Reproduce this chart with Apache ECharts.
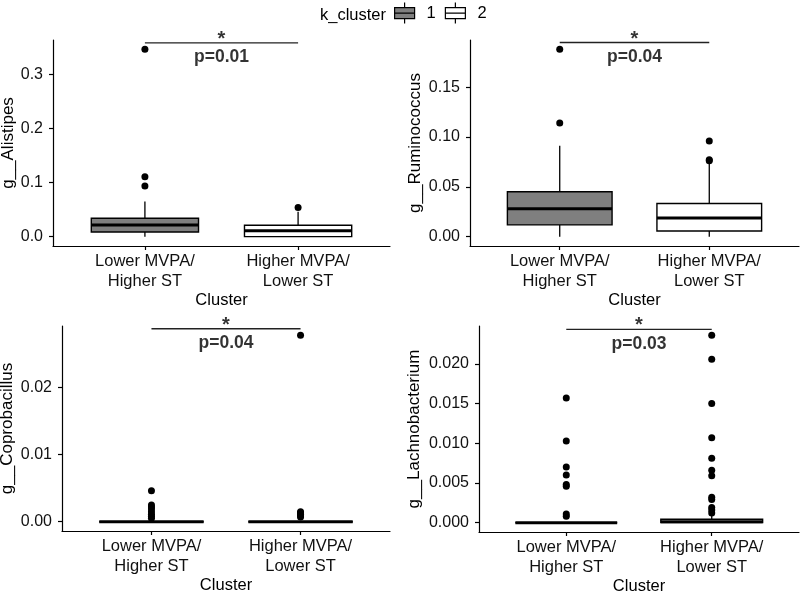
<!DOCTYPE html>
<html><head><meta charset="utf-8">
<script src="https://cdn.jsdelivr.net/npm/echarts@6/dist/echarts.min.js"></script>
<style>html,body{margin:0;padding:0;background:#fff}#c{width:800px;height:591px}</style>
</head><body><div id="c"></div>
<script>
// ---------------- data ----------------
const categories = ['Lower MVPA/\nHigher ST', 'Higher MVPA/\nLower ST'];
const clusters = ['1', '2'];
const genera = ['g__Alistipes', 'g__Ruminococcus', 'g__Coprobacillus', 'g__Lachnobacterium'];
const xTitle = 'Cluster';
const legendTitle = 'k_cluster';
const pLabels = ['p=0.01', 'p=0.04', 'p=0.04', 'p=0.03'];
const sigStars = ['*', '*', '*', '*'];
const sigBarY = [0.359, 0.1949, 0.02878, 0.02436];

// box statistics: [min, Q1, median, Q3, max]
const alistipesBox1 = [0, 0.0087, 0.0216, 0.034, 0.065];
const alistipesBox2 = [0, 0, 0.011, 0.021, 0.046];
const alistipesOut1 = [0.347, 0.111, 0.094];
const alistipesOut2 = [0.054];

const ruminococcusBox1 = [0, 0.0118, 0.0279, 0.045, 0.0913];
const ruminococcusBox2 = [0, 0.0057, 0.0188, 0.0332, 0.0745];
const ruminococcusOut1 = [0.188, 0.114];
const ruminococcusOut2 = [0.096, 0.0772, 0.0762];

const coprobacillusBox1 = [0, 0, 0, 0, 0];
const coprobacillusBox2 = [0, 0, 0, 0, 0];
const coprobacillusOut1 = [0.0046, 0.0025, 0.0022, 0.0019, 0.0015, 0.0011, 0.0008, 0.0005];
const coprobacillusOut2 = [0.0278, 0.0015, 0.0013, 0.0011, 0.0009, 0.0007];

const lachnoBox1 = [0, 0, 0, 0, 0];
const lachnoBox2 = [0, 0, 0.0001, 0.00043, 0.0009];
const lachnoOut1 = [0.0157, 0.0103, 0.0070, 0.0060, 0.0048, 0.0046, 0.0011, 0.0008];
const lachnoOut2 = [0.0236, 0.0206, 0.0150, 0.0107, 0.0081, 0.0066, 0.0059, 0.0032, 0.0029, 0.0019, 0.0016, 0.0012];

// tick values and labels
const alistipesTicks = [0, 0.1, 0.2, 0.3];
const alistipesTickLabels = ['0.0', '0.1', '0.2', '0.3'];
const ruminococcusTicks = [0, 0.05, 0.10, 0.15];
const ruminococcusTickLabels = ['0.00', '0.05', '0.10', '0.15'];
const coprobacillusTicks = [0, 0.01, 0.02];
const coprobacillusTickLabels = ['0.00', '0.01', '0.02'];
const lachnoTicks = [0, 0.005, 0.010, 0.015, 0.020];
const lachnoTickLabels = ['0.000', '0.005', '0.010', '0.015', '0.020'];

// ---------------- layout / style ----------------
const FONT = "'Liberation Sans', Arial, Helvetica, sans-serif";
const FILLS = ['#7f7f7f', '#ffffff'];
const BOX_HALF = 0.35;

const panels = [
  { name: genera[0], boxes: [alistipesBox1, alistipesBox2], outs: [alistipesOut1, alistipesOut2],
    ticks: alistipesTicks, tickLabels: alistipesTickLabels,
    grid: { left: 53, top: 40, width: 337, height: 206 }, nameGap: 36 },
  { name: genera[1], boxes: [ruminococcusBox1, ruminococcusBox2], outs: [ruminococcusOut1, ruminococcusOut2],
    ticks: ruminococcusTicks, tickLabels: ruminococcusTickLabels,
    grid: { left: 470, top: 40, width: 329, height: 206 }, nameGap: 46 },
  { name: genera[2], boxes: [coprobacillusBox1, coprobacillusBox2], outs: [coprobacillusOut1, coprobacillusOut2],
    ticks: coprobacillusTicks, tickLabels: coprobacillusTickLabels,
    grid: { left: 62, top: 326, width: 328, height: 205 }, nameGap: 46 },
  { name: genera[3], boxes: [lachnoBox1, lachnoBox2], outs: [lachnoOut1, lachnoOut2],
    ticks: lachnoTicks, tickLabels: lachnoTickLabels,
    grid: { left: 479, top: 326, width: 320, height: 206 }, nameGap: 56 }
];

function renderBox(params, api) {
  const x = api.value(0);
  const lo = api.value(1), q1 = api.value(2), med = api.value(3), q3 = api.value(4), hi = api.value(5);
  const cx = api.coord([x, med])[0];
  const yLo = api.coord([x, lo])[1], yQ1 = api.coord([x, q1])[1], yMed = api.coord([x, med])[1];
  const yQ3 = api.coord([x, q3])[1], yHi = api.coord([x, hi])[1];
  const xl = api.coord([x - BOX_HALF, med])[0], xr = api.coord([x + BOX_HALF, med])[0];
  const fill = api.visual('color');
  return {
    type: 'group',
    children: [
      { type: 'line', shape: { x1: cx, y1: yQ3, x2: cx, y2: yHi }, style: { stroke: '#000', lineWidth: 1.3 } },
      { type: 'line', shape: { x1: cx, y1: yLo, x2: cx, y2: yQ1 }, style: { stroke: '#000', lineWidth: 1.3 } },
      { type: 'rect', shape: { x: xl, y: yQ3, width: xr - xl, height: yQ1 - yQ3 },
        style: { fill: fill, stroke: '#000', lineWidth: 1.4 } },
      { type: 'line', shape: { x1: xl, y1: yMed, x2: xr, y2: yMed }, style: { stroke: '#000', lineWidth: 3 } }
    ]
  };
}

const grids = [], xAxes = [], yAxes = [], series = [];
panels.forEach((p, i) => {
  grids.push(Object.assign({ containLabel: false, outerBoundsMode: 'none' }, p.grid));
  let dataMax = 0;
  p.boxes.forEach(b => { dataMax = Math.max(dataMax, b[4]); });
  p.outs.forEach(o => o.forEach(v => { dataMax = Math.max(dataMax, v); }));
  const yMin = -0.05 * dataMax, yMax = 1.05 * dataMax;

  xAxes.push({
    gridIndex: i, type: 'value', min: 0.4, max: 2.6,
    axisLine: { show: true, onZero: false, lineStyle: { color: '#000', width: 1.2 } },
    axisTick: { show: true, customValues: [1, 2], length: 4, lineStyle: { color: '#000', width: 1.2 } },
    axisLabel: { show: true, customValues: [1, 2], formatter: v => categories[Math.round(v) - 1],
      fontSize: 16.5, lineHeight: 20, margin: 5, color: '#111', fontFamily: FONT },
    splitLine: { show: false },
    name: xTitle, nameLocation: 'middle', nameGap: 43,
    nameTextStyle: { fontSize: 16.5, color: '#000', fontFamily: FONT }
  });
  yAxes.push({
    gridIndex: i, type: 'value', min: yMin, max: yMax,
    axisLine: { show: true, onZero: false, lineStyle: { color: '#000', width: 1.2 } },
    axisTick: { show: true, customValues: p.ticks, length: 4, lineStyle: { color: '#000', width: 1.2 } },
    axisLabel: { show: true, customValues: p.ticks,
      formatter: v => { const k = p.ticks.findIndex(t => Math.abs(t - v) < 1e-9); return k >= 0 ? p.tickLabels[k] : ''; },
      fontSize: 16, margin: 10, color: '#111', fontFamily: FONT },
    splitLine: { show: false },
    name: p.name, nameLocation: 'middle', nameGap: p.nameGap,
    nameTextStyle: { fontSize: 17, color: '#000', fontFamily: FONT }
  });

  // outliers (drawn beneath boxes)
  p.outs.forEach((o, k) => {
    series.push({
      type: 'scatter', name: 'outliers', xAxisIndex: i, yAxisIndex: i, z: 1,
      symbol: 'circle', symbolSize: 7, itemStyle: { color: '#000', opacity: 1 },
      data: o.map(v => [k + 1, v]), silent: true
    });
  });
  // boxes
  p.boxes.forEach((b, k) => {
    series.push({
      type: 'custom', name: clusters[k], xAxisIndex: i, yAxisIndex: i, z: 2,
      itemStyle: { color: FILLS[k] },
      renderItem: renderBox,
      encode: { x: 0, y: [1, 2, 3, 4, 5] },
      data: [[k + 1].concat(b)]
    });
  });
  // significance bracket
  series.push({
    type: 'line', name: 'sig', xAxisIndex: i, yAxisIndex: i, z: 3, symbol: 'none', silent: true,
    lineStyle: { color: '#222', width: 1.3 }, data: [[1, sigBarY[i]], [2, sigBarY[i]]]
  });
  series.push({
    type: 'scatter', name: 'sigtext', xAxisIndex: i, yAxisIndex: i, z: 3, symbolSize: 1, silent: true,
    itemStyle: { color: 'rgba(0,0,0,0)' },
    data: [
      { value: [1.5, sigBarY[i]], label: { show: true, position: 'top', distance: -7, formatter: sigStars[i],
        fontSize: 20, fontWeight: 'bold', color: '#000', fontFamily: FONT } },
      { value: [1.5, sigBarY[i]], label: { show: true, position: 'bottom', distance: 5, formatter: pLabels[i],
        fontSize: 17.5, fontWeight: 'bold', color: '#000', fontFamily: FONT } }
    ]
  });
});

const legendIcon = 'path://M10,0L10,5M0,5L20,5L20,16L0,16ZM0,10.5L20,10.5M10,16L10,21';

const option = {
  backgroundColor: '#fff',
  animation: false,
  title: { text: legendTitle, left: 315, top: 2,
    textStyle: { fontSize: 16.5, fontWeight: 'normal', color: '#000', fontFamily: FONT } },
  legend: {
    left: 394, top: 2, padding: 0, itemWidth: 20, itemHeight: 21, itemGap: 9,
    selectedMode: false,
    textStyle: { fontSize: 16.5, color: '#000', fontFamily: FONT, padding: [0, 0, 0, 7] },
    data: clusters.map((c, k) => ({ name: c, icon: legendIcon,
      itemStyle: { color: FILLS[k], borderColor: '#000', borderWidth: 1.2 } }))
  },
  grid: grids, xAxis: xAxes, yAxis: yAxes, series: series
};

const chart = echarts.init(document.getElementById('c'), null, { renderer: 'canvas' });
chart.setOption(option);
</script>
</body></html>
